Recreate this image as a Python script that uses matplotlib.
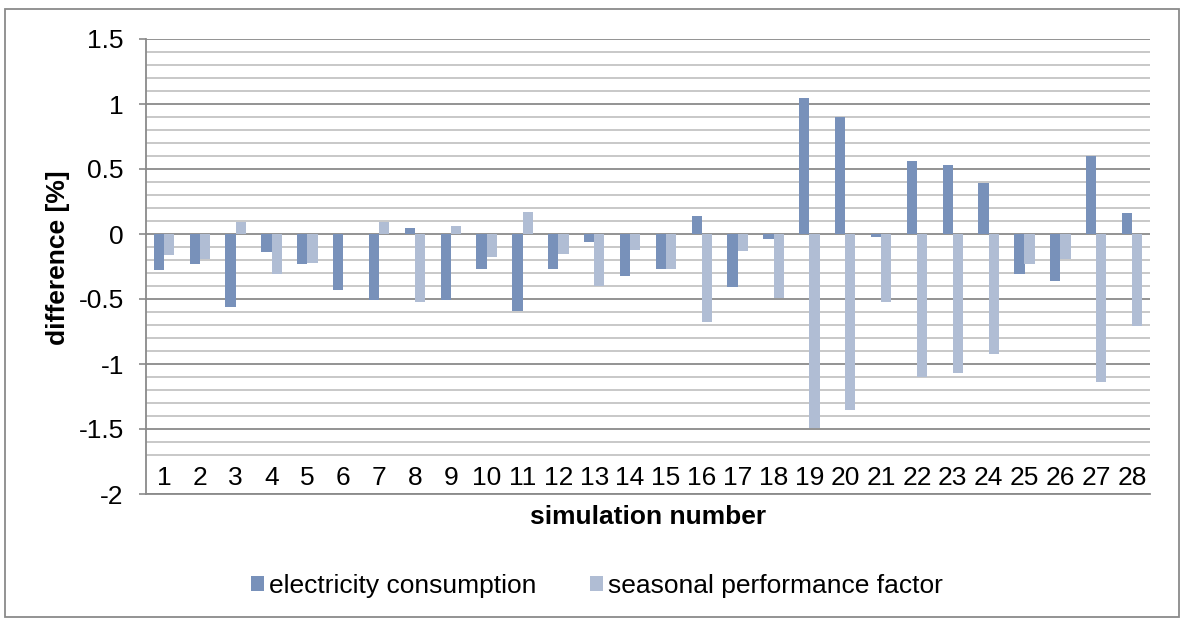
import numpy as np
import matplotlib
matplotlib.use("Agg")
import matplotlib.pyplot as plt
from matplotlib.patches import Rectangle
from matplotlib.ticker import FixedLocator

plt.rcParams['font.family'] = ['Liberation Sans', 'DejaVu Sans']

simulations = [str(i) for i in range(1, 29)]
electricity = [-0.28, -0.23, -0.56, -0.14, -0.23, -0.43, -0.51, 0.05, -0.51, -0.27,
               -0.59, -0.27, -0.06, -0.32, -0.27, 0.14, -0.41, -0.04, 1.05, 0.90,
               -0.02, 0.56, 0.53, 0.39, -0.31, -0.36, 0.60, 0.16]
spf = [-0.16, -0.19, 0.09, -0.31, -0.22, 0.0, 0.09, -0.52, 0.06, -0.18,
       0.17, -0.15, -0.40, -0.12, -0.27, -0.68, -0.13, -0.49, -1.49, -1.35,
       -0.52, -1.10, -1.07, -0.92, -0.23, -0.19, -1.14, -0.71]
series_names = ['electricity consumption', 'seasonal performance factor']
colors = ['#7891BA', '#B0BDD4']
y_ticks = [-2, -1.5, -1, -0.5, 0, 0.5, 1, 1.5]
y_ticklabels = ['-2', '-1.5', '-1', '-0.5', '0', '0.5', '1', '1.5']

W, H = 1182, 621
fig = plt.figure(figsize=(W / 100, H / 100), dpi=100)
ax = fig.add_axes([146 / W, 1 - 494 / H, (1150 - 146) / W, (494 - 39) / H])

x = np.arange(len(simulations))
bw = 1 / 3.5
ax.bar(x - bw / 2, electricity, bw, color=colors[0], label=series_names[0], zorder=3)
ax.bar(x + bw / 2, spf, bw, color=colors[1], label=series_names[1], zorder=3)

ax.set_xlim(-0.5, len(simulations) - 0.5)
ax.set_ylim(-2, 1.5)
ax.set_yticks(y_ticks)
ax.set_yticklabels(y_ticklabels)
# minor gridlines every 0.1; those behind the category labels (-1.8, -1.9) are hidden
minor = [round(v, 1) for v in np.arange(-1.7, 1.45, 0.1) if abs(round(v * 2) - v * 2) > 1e-6]
ax.yaxis.set_minor_locator(FixedLocator(minor))
ax.grid(which='major', axis='y', color='#8A8A8A', linewidth=1.3, zorder=1)
ax.grid(which='minor', axis='y', color='#C4C4C4', linewidth=1.3, zorder=1)
ax.tick_params(axis='y', which='major', length=5, width=1.2, color='#8A8A8A', pad=11, labelsize=19)
ax.tick_params(axis='y', which='minor', length=0)

ax.set_xticks(x)
ax.set_xticklabels(simulations)
ax.tick_params(axis='x', length=0, pad=-20, labelsize=19)

for s in ['top', 'right']:
    ax.spines[s].set_visible(False)
for s in ['left', 'bottom']:
    ax.spines[s].set_color('#8A8A8A')
    ax.spines[s].set_linewidth(1.3)

ax.set_ylabel('difference [%]', fontsize=19, fontweight='bold')
ax.yaxis.set_label_coords((70 - 146) / (1150 - 146), 0.52)
fig.text(648 / W, 1 - 517 / H, 'simulation number', fontsize=19, fontweight='bold',
         ha='center', va='center')

fig.legend(loc='center', bbox_to_anchor=(597 / W, 1 - 586 / H), ncol=2, frameon=False,
           fontsize=19, handlelength=0.5, handleheight=0.5, handletextpad=0.2,
           columnspacing=2.0)

fig.patches.append(Rectangle((5 / W, 1 - 617 / H), (1179 - 5) / W, (617 - 9) / H,
                             transform=fig.transFigure, fill=False,
                             edgecolor='#8A8A8A', linewidth=1.3))

fig.savefig('out.png', dpi=100)
